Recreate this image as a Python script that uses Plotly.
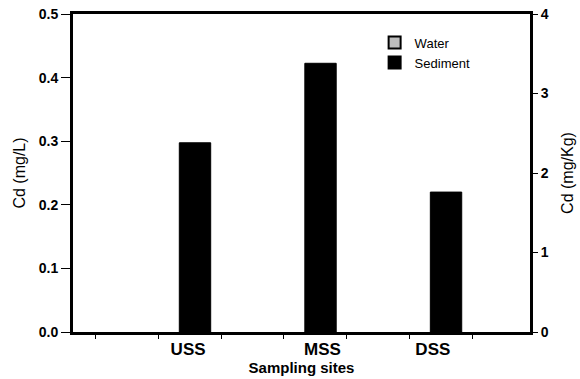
import plotly.graph_objects as go

sites = ["USS", "MSS", "DSS"]
site_pos = [1, 2, 3]
water = [0.0, 0.0, 0.0]          # Cd (mg/L), left axis
sediment = [2.38, 3.38, 1.76]    # Cd (mg/Kg), right axis
left_ticks = [0.0, 0.1, 0.2, 0.3, 0.4, 0.5]
left_labels = ["0.0", "0.1", "0.2", "0.3", "0.4", "0.5"]
right_ticks = [0, 1, 2, 3, 4]
right_labels = ["0", "1", "2", "3", "4"]
label_pos = [1.07, 2.14, 3.02]
minor_ticks = [1/3 + 0.5 * k for k in range(7)]

FONT = "Liberation Sans, Arial, sans-serif"
xr = [0.153, 3.794]

fig = go.Figure()
fig.add_trace(go.Bar(
    x=site_pos, y=water, name="Water", yaxis="y", offsetgroup="w",
    width=0.25, offset=-0.25, showlegend=False,
    marker=dict(color="#bdbdbd", line=dict(color="black", width=0)),
))
fig.add_trace(go.Bar(
    x=[None], y=[None], name="Water", yaxis="y",
    marker=dict(color="#bdbdbd", line=dict(color="black", width=3)),
))
fig.add_trace(go.Bar(
    x=site_pos, y=sediment, name="Sediment", yaxis="y2", offsetgroup="s",
    width=0.25, offset=0.0,
    marker=dict(color="black", line=dict(color="black", width=1)),
))
# invisible trace to carry minor x ticks axis
fig.add_trace(go.Scatter(x=[xr[0]], y=[0], xaxis="x2", yaxis="y",
                         mode="markers", marker=dict(opacity=0),
                         showlegend=False, hoverinfo="skip"))

fig.update_layout(
    width=580, height=379,
    margin=dict(l=73, r=50, t=14, b=47),
    paper_bgcolor="white", plot_bgcolor="white",
    font=dict(family=FONT, color="black"),
    barmode="overlay",
    showlegend=True,
    legend=dict(x=0.66, y=0.957, xanchor="left", yanchor="top",
                bgcolor="rgba(0,0,0,0)", font=dict(size=13, family=FONT),
                tracegroupgap=0, itemsizing="constant"),
    xaxis=dict(
        range=xr, tickmode="array", tickvals=label_pos, ticktext=sites,
        ticks="", showgrid=False, zeroline=False, automargin=False,
        showline=True, linecolor="black", linewidth=3, mirror=True,
        tickfont=dict(size=17, family=FONT, weight="bold"),
        title=dict(text="<b>Sampling sites</b>", font=dict(size=15), standoff=1),
    ),
    xaxis2=dict(
        range=xr, overlaying="x", side="bottom", anchor="y",
        tickmode="array", tickvals=minor_ticks, ticks="outside",
        ticklen=6, tickwidth=1, tickcolor="black", automargin=False,
        showticklabels=False, showgrid=False, zeroline=False, showline=False,
    ),
    yaxis=dict(
        range=[0, 0.5], tickmode="array", tickvals=left_ticks, ticktext=left_labels,
        ticks="outside", ticklen=9, tickwidth=1, tickcolor="black",
        showgrid=False, zeroline=False, automargin=False,
        ticklabeloverflow="allow",
        showline=True, linecolor="black", linewidth=3,
        tickfont=dict(size=14, family=FONT, weight="bold"),
        title=dict(text="Cd (mg/L)", font=dict(size=16), standoff=10),
    ),
    yaxis2=dict(
        range=[0, 4], overlaying="y", side="right", anchor="x",
        tickmode="array", tickvals=right_ticks, ticktext=right_labels,
        ticks="outside", ticklen=5, tickwidth=1, tickcolor="black",
        showgrid=False, zeroline=False, automargin=False,
        ticklabeloverflow="allow",
        showline=True, linecolor="black", linewidth=3,
        tickfont=dict(size=14, family=FONT, weight="bold"),
        title=dict(text="Cd (mg/Kg)", font=dict(size=16), standoff=15),
    ),
)

fig.write_html("out.html", config={"displayModeBar": False},
               post_script="document.body.style.margin='0px';")
